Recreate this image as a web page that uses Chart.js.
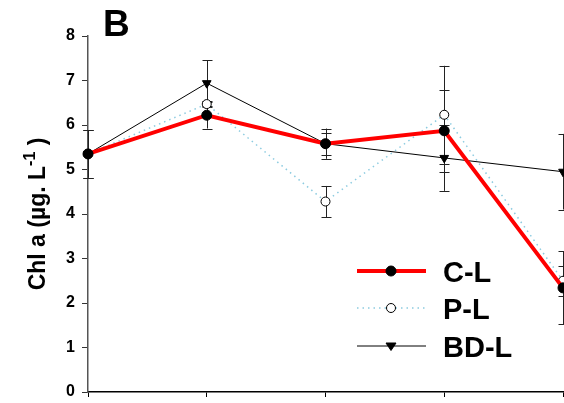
<!DOCTYPE html>
<html>
<head>
<meta charset="utf-8">
<script src="https://cdn.jsdelivr.net/npm/chart.js@4.4.1/dist/chart.umd.min.js"></script>
<style>
  html, body { margin: 0; padding: 0; background: #fff; }
</style>
</head>
<body>
<canvas id="chart" width="564" height="403"></canvas>
<script>
// Data
const labels = ["1", "2", "3", "4", "5"];
const seriesNames = ["C-L", "P-L", "BD-L"];
const valuesCL = [5.35, 6.22, 5.58, 5.87, 2.34];
const valuesPL = [5.35, 6.47, 4.28, 6.23, 2.50];
const valuesBDL = [5.35, 6.94, 5.58, 5.26, 4.95];
const errCL = [0.53, 0.30, 0.34, 0.92, 0.82];
const errPL = [0.53, 0.06, 0.35, 1.10, 0.34];
const errBDL = [0.53, 0.52, 0.25, 0.74, 0.85];
const yTicks = [0, 1, 2, 3, 4, 5, 6, 7, 8];

const FONT = "'Liberation Sans', Arial, Helvetica, sans-serif";

// Error bars, drawn under the lines
const errorBars = {
  id: "errorBars",
  beforeDatasetsDraw(chart) {
    const ctx = chart.ctx;
    const x = chart.scales.x, y = chart.scales.y;
    ctx.save();
    ctx.strokeStyle = "#222";
    ctx.lineWidth = 1;
    chart.data.datasets.forEach(ds => {
      ds.data.forEach((v, i) => {
        const e = ds.errors[i];
        const px = Math.round(x.getPixelForValue(i)) + 0.5;
        const top = y.getPixelForValue(v + e);
        const bot = y.getPixelForValue(v - e);
        ctx.beginPath();
        ctx.moveTo(px, top); ctx.lineTo(px, bot);
        ctx.moveTo(px - 5, Math.round(top) + 0.5); ctx.lineTo(px + 5, Math.round(top) + 0.5);
        ctx.moveTo(px - 5, Math.round(bot) + 0.5); ctx.lineTo(px + 5, Math.round(bot) + 0.5);
        ctx.stroke();
      });
    });
    ctx.restore();
  }
};

function drawMarker(ctx, ds, x, y) {
  ctx.save();
  ctx.fillStyle = ds.pointBackgroundColor;
  ctx.strokeStyle = ds.pointBorderColor;
  ctx.lineWidth = 1;
  ctx.setLineDash([]);
  ctx.beginPath();
  if (ds.pointStyle === "triangle") {
    const r = ds.pointRadius;
    ctx.moveTo(x - r, y - r * 0.6);
    ctx.lineTo(x + r, y - r * 0.6);
    ctx.lineTo(x, y + r * 0.9);
    ctx.closePath();
  } else {
    ctx.arc(x, y, ds.pointRadius, 0, Math.PI * 2);
  }
  ctx.fill();
  ctx.stroke();
  ctx.restore();
}

// Panel letter, y title and the legend box
const decorations = {
  id: "decorations",
  afterDraw(chart) {
    const ctx = chart.ctx;
    ctx.save();
    ctx.fillStyle = "#000";
    ctx.textBaseline = "alphabetic";

    ctx.font = "bold 37px " + FONT;
    ctx.fillText("B", 103, 36);

    // y title: Chl a (µg. L-1)
    ctx.save();
    ctx.translate(45, 214);
    ctx.rotate(-Math.PI / 2);
    const parts = [
      { t: "Chl a (µg. L", f: "bold 23px " + FONT, dy: 0 },
      { t: "-1", f: "bold 16px " + FONT, dy: -10 },
      { t: " )", f: "bold 23px " + FONT, dy: 0 }
    ];
    let total = 0;
    parts.forEach(p => { ctx.font = p.f; p.w = ctx.measureText(p.t).width; total += p.w; });
    let cx = -total / 2;
    parts.forEach(p => { ctx.font = p.f; ctx.fillText(p.t, cx, p.dy); cx += p.w; });
    ctx.restore();

    // legend
    const rows = [271, 308, 346];
    chart.data.datasets.forEach((ds, i) => {
      const ly = rows[i];
      ctx.save();
      ctx.strokeStyle = ds.borderColor;
      ctx.lineWidth = ds.borderWidth;
      ctx.setLineDash(ds.borderDash || []);
      ctx.beginPath();
      ctx.moveTo(357, ly); ctx.lineTo(426, ly);
      ctx.stroke();
      ctx.restore();
      drawMarker(ctx, ds, 391, ly);
      ctx.font = "bold 29px " + FONT;
      ctx.fillStyle = "#000";
      ctx.fillText(ds.label, 443, ly + 11);
    });
    ctx.restore();
  }
};

new Chart(document.getElementById("chart"), {
  type: "line",
  data: {
    labels: labels,
    datasets: [
      {
        label: seriesNames[0], data: valuesCL, errors: errCL,
        borderColor: "#ff0000", borderWidth: 4,
        pointStyle: "circle", pointRadius: 5,
        pointBackgroundColor: "#000", pointBorderColor: "#000", pointBorderWidth: 1,
        clip: false, order: 0
      },
      {
        label: seriesNames[1], data: valuesPL, errors: errPL,
        borderColor: "#8ccbe0", borderWidth: 1.5, borderDash: [1.5, 4],
        pointStyle: "circle", pointRadius: 4.5,
        pointBackgroundColor: "#fff", pointBorderColor: "#000", pointBorderWidth: 1,
        clip: false, order: 2
      },
      {
        label: seriesNames[2], data: valuesBDL, errors: errBDL,
        borderColor: "#000", borderWidth: 1,
        pointStyle: "triangle", rotation: 180, pointRadius: 5,
        pointBackgroundColor: "#000", pointBorderColor: "#000", pointBorderWidth: 1,
        clip: false, order: 1
      }
    ]
  },
  options: {
    responsive: false,
    animation: false,
    layout: { autoPadding: false, padding: { top: 36, right: 1, left: 0, bottom: 0 } },
    plugins: { legend: { display: false }, tooltip: { enabled: false } },
    scales: {
      x: {
        type: "category",
        offset: false,
        ticks: { display: false },
        grid: { drawOnChartArea: false, drawTicks: true, tickLength: 5, color: "#000" },
        border: { color: "#000", width: 1.5 },
        afterFit: s => { s.height = 11; }
      },
      y: {
        min: yTicks[0],
        max: yTicks[yTicks.length - 1],
        afterBuildTicks: s => { s.ticks = yTicks.map(v => ({ value: v })); },
        ticks: { color: "#000", padding: 7, font: { family: FONT, size: 16, weight: "bold" } },
        grid: { drawOnChartArea: false, tickLength: 6, color: "#333" },
        border: { color: "#555", width: 1.5 },
        afterFit: s => { s.width = 88; s.paddingTop = 0; s.paddingBottom = 0; }
      }
    }
  },
  plugins: [errorBars, decorations]
});
</script>
</body>
</html>
